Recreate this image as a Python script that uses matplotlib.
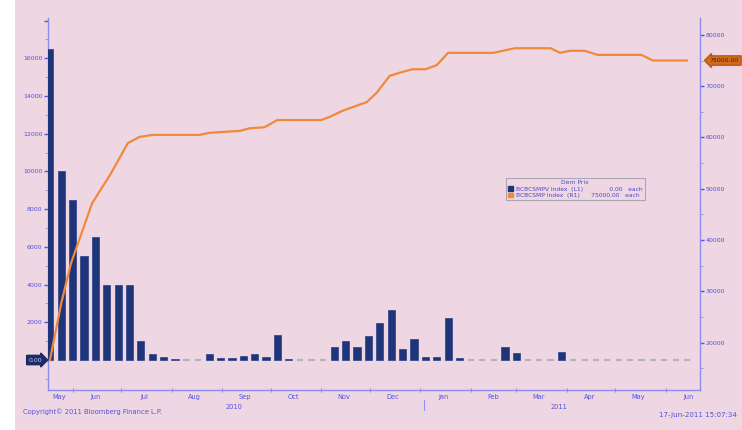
import matplotlib
matplotlib.use("Agg")
import matplotlib.pyplot as plt
import matplotlib.dates as mdates
from matplotlib.patches import Patch, Rectangle
import pandas as pd
import numpy as np

# ---------------- data ----------------
bar_start = "2010-05-18"
bar_values = [16500, 10000, 8500, 5500, 6500, 4000, 4000, 4000, 1000, 300,
              150, 50, 0, 0, 300, 100, 100, 200, 300, 150,
              1350, 30, 0, 0, 0, 700, 1000, 700, 1300, 1950,
              2650, 600, 1100, 150, 150, 2250, 130, 0, 0, 0,
              700, 350, 0, 0, 0, 450, 0, 0, 0, 0,
              0, 0, 0, 0, 0, 0, 0]
line_dates = ["2010-05-18", "2010-05-25", "2010-05-31", "2010-06-13", "2010-06-24",
              "2010-07-05", "2010-07-12", "2010-07-20", "2010-08-18", "2010-08-24",
              "2010-09-12", "2010-09-18", "2010-09-27", "2010-10-05", "2010-11-01",
              "2010-11-06", "2010-11-14", "2010-11-29", "2010-12-05", "2010-12-13",
              "2010-12-19", "2010-12-27", "2011-01-04", "2011-01-11", "2011-01-18",
              "2011-02-15", "2011-02-28", "2011-03-22", "2011-03-28", "2011-04-03",
              "2011-04-12", "2011-04-20", "2011-05-17", "2011-05-24", "2011-06-14"]
line_values = [16600, 27700, 35500, 47200, 52700,
               58900, 60100, 60500, 60500, 60900,
               61300, 61800, 62000, 63400, 63400,
               64000, 65200, 66900, 68700, 72000,
               72600, 73300, 73300, 74100, 76500,
               76500, 77400, 77400, 76500, 76900,
               76900, 76100, 76100, 75000, 75000]
month_labels = ["May", "Jun", "Jul", "Aug", "Sep", "Oct", "Nov", "Dec",
                "Jan", "Feb", "Mar", "Apr", "May", "Jun"]
month_label_pos = ["2010-05-24", "2010-06-15", "2010-07-15", "2010-08-15", "2010-09-15",
                   "2010-10-15", "2010-11-15", "2010-12-15", "2011-01-15", "2011-02-15",
                   "2011-03-15", "2011-04-15", "2011-05-15", "2011-06-15"]
year_labels = ["2010", "2011"]
year_label_pos = ["2010-09-08", "2011-03-27"]
left_ticks = [0, 2000, 4000, 6000, 8000, 10000, 12000, 14000, 16000, 18000]
right_ticks = [20000, 30000, 40000, 50000, 60000, 70000, 80000]
legend_title = "Dern Prix"
legend_labels = ["BCBCSMPV Index  (L1)              0.00   each",
                 "BCBCSMP Index  (R1)      75000.00   each"]

# ---------------- style ----------------
BG = "#EED7E2"
NAVY = "#1E3579"
ORANGE = "#F08A3A"
TXT = "#5252E0"
SPINE = "#8C8CF0"
GRAY = "#B4B0BE"

W, H = 742, 430
fig = plt.figure(figsize=(W / 100, H / 100), dpi=100, facecolor=BG)
fig.patches.append(Rectangle((0, 0), 15 / W, 1, transform=fig.transFigure,
                             facecolor="white", edgecolor="none", zorder=-10))

ax_l, ax_r, ax_t, ax_b = 48, 700, 18, 390
ax = fig.add_axes([ax_l / W, 1 - ax_b / H, (ax_r - ax_l) / W, (ax_b - ax_t) / H])
ax.set_facecolor(BG)
ax2 = ax.twinx()

bar_dates = pd.date_range(bar_start, periods=len(bar_values), freq="7D")
vals = np.array(bar_values, dtype=float)
nonzero = vals > 0
ax.bar(bar_dates[nonzero], vals[nonzero], width=4.4, color=NAVY,
       edgecolor="#2A3F88", linewidth=0.5, zorder=3)
ax.bar(bar_dates[~nonzero], vals[~nonzero], width=3.8, color=GRAY,
       edgecolor=GRAY, linewidth=1.5, zorder=3)

ax2.plot(pd.to_datetime(line_dates), line_values, color=ORANGE, lw=1.6, zorder=4)

ax.set_xlim(pd.Timestamp("2010-05-16 20:00"), pd.Timestamp("2011-06-22"))
ax.set_ylim(-1590, 18140)
ax2.set_ylim(10780, 83290)

# spines
for a in (ax, ax2):
    for s in a.spines.values():
        s.set_visible(False)
ax.spines["left"].set_visible(True)
ax.spines["left"].set_color(SPINE)
ax.spines["bottom"].set_visible(True)
ax.spines["bottom"].set_color(SPINE)
ax2.spines["right"].set_visible(True)
ax2.spines["right"].set_color(SPINE)
for s in ("left", "bottom"):
    ax.spines[s].set_linewidth(1.0)
ax2.spines["right"].set_linewidth(1.0)

# left y ticks
ax.set_yticks(left_ticks)
ax.set_yticklabels(["" if (t == 0 or t == 18000) else str(t) for t in left_ticks])
ax.set_yticks(np.arange(-1000, 18001, 1000), minor=True)
ax.tick_params(axis="y", which="major", colors=TXT, labelsize=4.5, length=3,
               width=1.0, direction="out", pad=1)
ax.tick_params(axis="y", which="minor", colors=SPINE, length=2, width=0.6)

# right y ticks
ax2.set_yticks(right_ticks)
ax2.set_yticklabels([str(t) for t in right_ticks])
ax2.set_yticks(np.arange(15000, 83001, 5000), minor=True)
ax2.tick_params(axis="y", which="major", colors=TXT, labelsize=4.5, length=3,
                width=1.0, direction="out", pad=1)
ax2.tick_params(axis="y", which="minor", colors=SPINE, length=2, width=0.6)

# x ticks: month boundaries (marks) and month labels
ax.xaxis.set_major_locator(mdates.MonthLocator())
ax.xaxis.set_major_formatter(plt.NullFormatter())
ax.tick_params(axis="x", which="major", colors=SPINE, length=2.5, width=0.8,
               direction="inout")
ax.set_xticks(pd.to_datetime(month_label_pos), minor=True)
ax.set_xticklabels(month_labels, minor=True)
ax.tick_params(axis="x", which="minor", length=0, labelsize=4.8,
               labelcolor=TXT, pad=3)

# year labels and separator
for lab, pos in zip(year_labels, year_label_pos):
    ax.text(pd.Timestamp(pos), -0.045, lab, transform=ax.get_xaxis_transform(),
            ha="center", va="center", fontsize=4.8, color=TXT, clip_on=False)
ax.plot([pd.Timestamp("2011-01-03")] * 2, [-0.027, -0.055],
        transform=ax.get_xaxis_transform(), color=SPINE, lw=0.7, clip_on=False)

# last value markers
ax.annotate("0.00", xy=(0, 0), xycoords=("axes fraction", "data"),
            xytext=(-4, 0), textcoords="offset points", ha="right", va="center",
            fontsize=4.5, color="#C8C8F0",
            bbox=dict(boxstyle="rarrow,pad=0.35", fc="#1C2C66", ec="#1C2C66"),
            annotation_clip=False)
ax2.annotate("75000.00", xy=(1, line_values[-1]), xycoords=("axes fraction", "data"),
             xytext=(7, 0), textcoords="offset points", ha="left", va="center",
             fontsize=4.5, color="#4A2000",
             bbox=dict(boxstyle="larrow,pad=0.35", fc="#D46A1E", ec="#B85A18"),
             annotation_clip=False)

# legend
handles = [Patch(facecolor=NAVY, edgecolor=NAVY), Patch(facecolor=ORANGE, edgecolor=ORANGE)]
leg = ax2.legend(handles, legend_labels, title=legend_title, loc="upper left",
                 bbox_to_anchor=((506 - ax_l) / (ax_r - ax_l), (ax_b - 178) / (ax_b - ax_t)),
                 fontsize=4.3, title_fontsize=4.3, frameon=True, fancybox=False,
                 handlelength=0.8, handleheight=0.8, handletextpad=0.4,
                 borderpad=0.4, labelspacing=0.15, borderaxespad=0)
leg.get_frame().set_facecolor(BG)
leg.get_frame().set_edgecolor("#9A9AA8")
leg.get_frame().set_linewidth(0.8)
for t in leg.get_texts():
    t.set_color("#4A4AC8")
leg.get_title().set_color("#4A4AC8")

# footer texts
fig.text(23 / W, 1 - 412 / H, "Copyright\u00a9 2011 Bloomberg Finance L.P.",
         ha="left", va="center", fontsize=4.9, color=TXT)
fig.text(737 / W, 1 - 415 / H, "17-Jun-2011 15:07:34",
         ha="right", va="center", fontsize=5.1, color=TXT)

fig.savefig("out.png", dpi=100, facecolor=BG)
